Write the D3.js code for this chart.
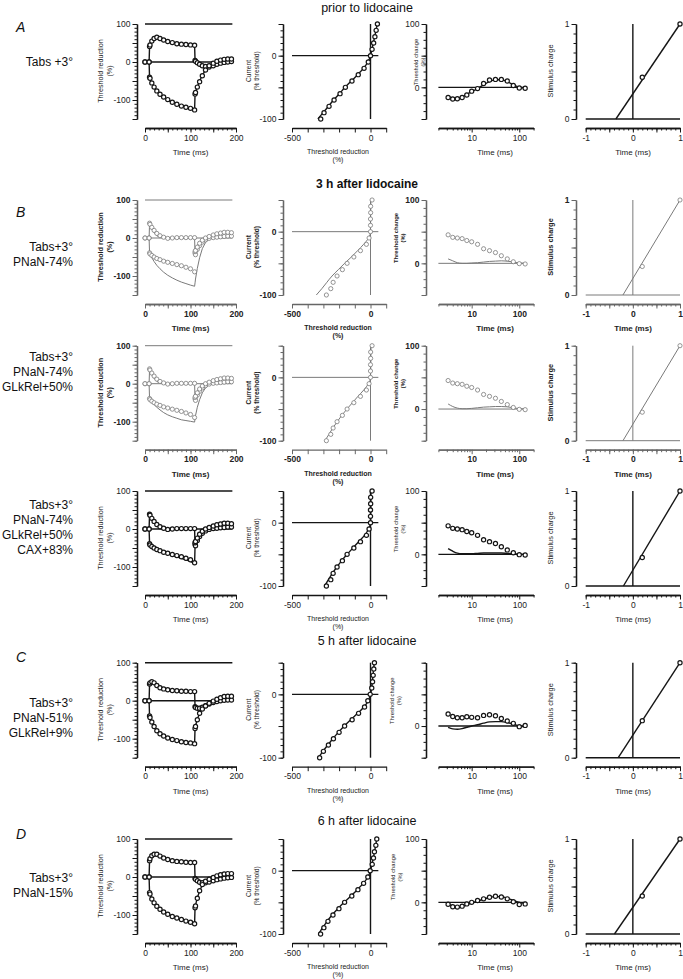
<!DOCTYPE html>
<html>
<head>
<meta charset="utf-8">
<script src="https://cdn.jsdelivr.net/npm/d3@7"></script>
<style>
  body { margin: 0; background: #fff; }
  svg { display: block; font-family: "Liberation Sans", Arial, sans-serif; }
</style>
</head>
<body>
<svg id="fig" width="683" height="979"></svg>
<script>
// ---- shared x values ----
const teT = [0, 9, 10, 11, 15, 20, 26, 33, 41, 50, 60, 70, 80, 90, 100, 109, 110, 111, 115, 120, 126, 133, 141, 150, 158, 166, 174, 182, 190];
const ivCurrent = [-100, -90, -80, -70, -60, -50, -40, -30, -20, -10, 0, 10, 20, 30, 40, 50];
const rcT = [3.2, 4, 5, 6.3, 7.9, 10, 13.3, 17.8, 23.7, 31.6, 42, 56, 75, 100, 133];
const chargeDur = [0.2, 1];

// ---- prior to lidocaine ----
const teDepObs0 = [0, 0, 41, 45, 55, 62, 65, 62, 58, 54, 51, 48, 47, 46, 45, 44, 4, 2, -2, -6, -10, -12, -13, -10, -6, -3, -1, 0, 1];
const teHypObs0 = [0, 0, -40, -43, -55, -66, -76, -85, -92, -99, -106, -111, -116, -119, -122, -126, -84, -80, -66, -52, -36, -21, -10, -3, 2, 5, 7, 8, 8];
const teDepFit0 = [0, 0, 40, 46, 57, 63, 64, 61, 57, 54, 51, 49, 47, 46, 45, 44, 4, 2, -3, -7, -11, -13, -12, -9, -6, -3, -1, 0, 1];
const teHypFit0 = [0, 0, -41, -44, -56, -67, -77, -86, -93, -100, -106, -111, -115, -119, -122, -125, -85, -79, -65, -50, -35, -21, -10, -3, 2, 5, 6, 7, 7];
const ivObs0 = [-317, -296, -264, -232, -194, -160, -118, -78, -41, -14, 0, 10, 20, 28, 36, 44];
const ivFit0 = [-335, -302, -268, -235, -198, -162, -122, -82, -45, -16, 0, 9, 18, 27, 35, 43];
const rcObs0 = [-16, -18.5, -18, -16, -12, -6, -2, 6, 11.5, 12.5, 12.5, 10, 3, -1, -1.5];
const rcFit0 = [-14, -17, -17, -15, -11, -7, -2, 4, 9, 12, 12, 9, 4, 0, -1];
const chargeObs0 = [0.44, 1];
const chargeIcpt0 = -0.36;

// ---- 3 h after lidocaine (recording) ----
const teDepObs3 = [0, 0, 39, 36, 28, 20, 12, 6, 2, -1, 0, 1, 1, 1, 1, 1, -40, -44, -30, -20, -11, -5, -1, 1, 2, 3, 4, 5, 5];
const teHypObs3 = [0, 0, -39, -42, -46, -50, -54, -57, -61, -64, -67, -70, -73, -77, -81, -89, -36, -33, -24, -14, -6, 0, 4, 8, 11, 13, 15, 15, 14];
const ivObs3 = [-281, -253, -238, -213, -179, -149, -106, -64, -26, -9, 0, 0, 0, 1, 1, 10];
const rcObs3 = [45, 41, 40, 39, 36, 34, 30, 23, 20, 17, 12, 7, 2.5, -0.5, -1];
const chargeObs3 = [0.30, 1];

// ---- 3 h models ----
const teDepFitNa = [0, 0, 38, 34, 24, 14, 6, 2, 0, 0, 0, 0, 0, 0, 0, 0, -46, -42, -30, -19, -11, -6, -2, 0, 1, 2, 3, 4, 4];
const teHypFitNa = [0, 0, -39, -42, -52, -62, -72, -81, -90, -98, -105, -111, -116, -120, -124, -127, -118, -108, -80, -52, -28, -12, -3, 1, 3, 4, 5, 5, 5];
const ivFitNa = [-345, -310, -278, -245, -205, -165, -122, -82, -44, -12, 0, 0, 1, 1, 2, 2];
const rcFitNa = [7, 4, 1, 0, 0, 0.5, 1, 2, 3, 3.5, 4, 3.5, 2, 0.5, 0];
const chargeIcptNa = -0.21;

const teDepFitLk = [0, 0, 38, 34, 24, 14, 6, 2, 0, 0, 0, 0, 0, 0, 0, 0, -45, -41, -29, -19, -11, -6, -2, 0, 1, 2, 3, 3, 3];
const teHypFitLk = [0, 0, -39, -41, -48, -55, -62, -69, -76, -82, -87, -91, -95, -97, -99, -101, -92, -84, -62, -42, -24, -11, -3, 1, 3, 4, 4, 4, 4];
const ivFitLk = [-290, -265, -240, -212, -183, -150, -115, -80, -43, -13, 0, 1, 2, 2, 3, 3];
const rcFitLk = [8, 4, 1.5, 0.5, 0.5, 1, 2, 3, 3.5, 4, 4, 3.5, 2, 0.5, 0];
const chargeIcptLk = -0.21;

const teDepFitCax = [0, 0, 40, 36, 27, 18, 10, 4, 1, 0, 0, 0, 0, 0, 0, 0, -46, -42, -30, -20, -12, -6, -2, 0, 2, 3, 4, 5, 5];
const teHypFitCax = [0, 0, -37, -40, -45, -49, -53, -57, -61, -65, -69, -73, -77, -81, -85, -91, -46, -40, -30, -20, -11, -4, 0, 3, 5, 6, 7, 7, 7];
const ivFitCax = [-292, -268, -243, -214, -183, -149, -112, -75, -38, -12, 0, 1, 1, 2, 2, 3];
const rcFitCax = [9, 5, 2, 1, 1, 1, 1.5, 2, 2, 2, 2, 1.5, 1, 0, 0];
const chargeIcptCax = -0.20;

// ---- 5 h after lidocaine ----
const teDepObs5 = [0, 0, 44, 47, 50, 47, 40, 34, 31, 29, 27, 26, 25, 25, 24, 24, -16, -18, -20, -20, -17, -13, -9, -5, -2, 0, 1, 2, 2];
const teHypObs5 = [0, 0, -40, -44, -56, -68, -79, -87, -93, -98, -102, -105, -108, -110, -111, -113, -73, -68, -50, -33, -22, -14, -7, -1, 4, 8, 11, 12, 12];
const teDepFit5 = [0, 0, 42, 46, 49, 47, 41, 35, 31, 29, 27, 26, 25, 24, 24, 24, -16, -18, -19, -19, -17, -13, -9, -5, -2, 0, 1, 1, 1];
const teHypFit5 = [0, 0, -41, -45, -57, -69, -79, -87, -93, -98, -102, -105, -108, -110, -112, -113, -72, -66, -49, -33, -21, -12, -5, 0, 3, 5, 6, 6, 6];
const ivObs5 = [-324, -300, -268, -236, -200, -165, -117, -76, -38, -17, -2, 8, 13, 17, 21, 25];
const ivFit5 = [-332, -303, -272, -240, -205, -167, -125, -82, -42, -14, 0, 7, 12, 16, 20, 24];
const rcObs5 = [19, 15, 13, 13, 14.7, 13.7, 13, 16.8, 17.9, 16.3, 12, 7.9, 4.2, -1, 1];
const rcFit5 = [-2, -4.5, -5, -4, -2, 0, 2, 4.5, 6.5, 7, 7, 5.5, 3, 0, -1];
const chargeObs5 = [0.39, 1];
const chargeIcpt5 = -0.31;

// ---- 6 h after lidocaine ----
const teDepObs6 = [0, 0, 43, 48, 56, 60, 60, 55, 50, 46, 43, 41, 40, 39, 38, 38, -4, -6, -10, -14, -15, -15, -13, -10, -7, -5, -3, -2, -1];
const teHypObs6 = [0, 0, -41, -45, -58, -68, -77, -85, -92, -98, -104, -108, -112, -116, -119, -123, -81, -76, -56, -36, -20, -11, -6, -1, 3, 6, 8, 9, 9];
const teDepFit6 = [0, 0, 42, 49, 57, 61, 60, 55, 50, 46, 43, 41, 40, 39, 38, 38, -3, -6, -11, -14, -16, -15, -13, -10, -7, -5, -3, -2, -1];
const teHypFit6 = [0, 0, -42, -46, -58, -68, -77, -85, -92, -98, -103, -108, -112, -115, -119, -122, -80, -74, -55, -37, -21, -11, -5, 0, 3, 5, 6, 7, 7];
const ivObs6 = [-318, -297, -271, -239, -201, -165, -119, -80, -44, -17, -2, 11, 19, 25, 34, 40];
const ivFit6 = [-330, -305, -276, -245, -208, -168, -125, -84, -46, -16, 0, 9, 18, 26, 33, 40];
const rcObs6 = [-3, -7, -7.5, -6, -2.5, 0, 3, 5.5, 8, 9.5, 8.5, 5.5, 1, -3.5, -2.5];
const rcFit6 = [-2, -6, -8, -7, -4, -1, 2, 5, 8, 9, 9, 6.5, 3, 0, -2];
const chargeObs6 = [0.40, 1];
const chargeIcpt6 = -0.39;

// ---- row table ----
const rows = [
  { top: 24, gray: false, letter: 'A', letterY: 32, title: 'prior to lidocaine', titleY: 12, titleBold: false,
    labels: ['Tabs +3°'], labelY: 66, rcLabelX: 417.5, rcTopLabel: true,
    teD: teDepObs0, teH: teHypObs0, teDF: teDepFit0, teHF: teHypFit0, iv: ivObs0, ivF: ivFit0,
    rc: rcObs0, rcF: rcFit0, ch: chargeObs0, chI: chargeIcpt0 },
  { top: 200, gray: true, letter: 'B', letterY: 217, title: '3 h after lidocaine', titleY: 188, titleBold: true,
    labels: ['Tabs+3°', 'PNaN-74%'], labelY: 251, rcLabelX: 398, rcTopLabel: true,
    teD: teDepObs3, teH: teHypObs3, teDF: teDepFitNa, teHF: teHypFitNa, iv: ivObs3, ivF: ivFitNa,
    rc: rcObs3, rcF: rcFitNa, ch: chargeObs3, chI: chargeIcptNa },
  { top: 345.7, gray: true, labels: ['Tabs+3°', 'PNaN-74%', 'GLkRel+50%'], labelY: 361, rcLabelX: 398, rcTopLabel: true,
    teD: teDepObs3, teH: teHypObs3, teDF: teDepFitLk, teHF: teHypFitLk, iv: ivObs3, ivF: ivFitLk,
    rc: rcObs3, rcF: rcFitLk, ch: chargeObs3, chI: chargeIcptLk },
  { top: 491, gray: false, labels: ['Tabs+3°', 'PNaN-74%', 'GLkRel+50%', 'CAX+83%'], labelY: 509, rcLabelX: 398, rcTopLabel: true,
    teD: teDepObs3, teH: teHypObs3, teDF: teDepFitCax, teHF: teHypFitCax, iv: ivObs3, ivF: ivFitCax,
    rc: rcObs3, rcF: rcFitCax, ch: chargeObs3, chI: chargeIcptCax },
  { top: 662.7, gray: false, letter: 'C', letterY: 662, title: '5 h after lidocaine', titleY: 645, titleBold: false,
    labels: ['Tabs+3°', 'PNaN-51%', 'GLkRel+9%'], labelY: 707, rcLabelX: 394, rcTopLabel: false,
    teD: teDepObs5, teH: teHypObs5, teDF: teDepFit5, teHF: teHypFit5, iv: ivObs5, ivF: ivFit5,
    rc: rcObs5, rcF: rcFit5, ch: chargeObs5, chI: chargeIcpt5 },
  { top: 839, gray: false, letter: 'D', letterY: 839, title: '6 h after lidocaine', titleY: 825, titleBold: false,
    labels: ['Tabs+3°', 'PNaN-15%'], labelY: 882, rcLabelX: 395, rcTopLabel: true,
    teD: teDepObs6, teH: teHypObs6, teDF: teDepFit6, teHF: teHypFit6, iv: ivObs6, ivF: ivFit6,
    rc: rcObs6, rcF: rcFit6, ch: chargeObs6, chI: chargeIcpt6 }
];

const fig = d3.select('#fig');

// draws an axis as a minor + major pair, labels only where asked
function axis(g, kind, scale, pos, minor, major, labeled, st) {
  const mk = kind === 'left' ? d3.axisLeft : d3.axisBottom;
  const tr = kind === 'left' ? `translate(${pos},0)` : `translate(0,${pos})`;
  const parts = [];
  if (minor.length) {
    parts.push(g.append('g').attr('transform', tr)
      .call(mk(scale).tickValues(minor).tickSize(2.5).tickSizeOuter(0).tickFormat('')));
  }
  parts.push(g.append('g').attr('transform', tr)
    .call(mk(scale).tickValues(major).tickSize(4.5).tickSizeOuter(0).tickPadding(2)
      .tickFormat(d => labeled.includes(d) ? String(d) : '')));
  parts.forEach(a => {
    a.attr('font-size', null).attr('font-family', null);
    a.select('.domain').attr('stroke', st.axCol).attr('stroke-width', 1.3);
    a.selectAll('.tick line').attr('stroke', st.axCol).attr('stroke-width', 1);
    a.selectAll('.tick text').attr('fill', '#222').style('font-size', '8.5px').style('font-weight', st.fw);
  });
}

function vLabel(g, lines, x0, cy, size, gap, st) {
  lines.forEach((t, i) => {
    g.append('text')
      .attr('transform', `translate(${x0 + i * gap},${cy}) rotate(-90)`)
      .attr('text-anchor', 'middle')
      .style('font-size', size + 'px').style('font-weight', st.fw)
      .attr('fill', '#222').text(t);
  });
}

function hLabel(g, lines, cx, y0, size, gap, st) {
  lines.forEach((t, i) => {
    g.append('text').attr('x', cx).attr('y', y0 + i * gap)
      .attr('text-anchor', 'middle')
      .style('font-size', size + 'px').style('font-weight', st.fw)
      .attr('fill', '#222').text(t);
  });
}

function refLine(g, pts, st) {
  g.append('path').attr('d', d3.line()(pts))
    .attr('fill', 'none').attr('stroke', st.col).attr('stroke-width', st.lw);
}

function fitLine(g, pts, line, st) {
  g.append('path').datum(pts).attr('d', line)
    .attr('fill', 'none').attr('stroke', st.col).attr('stroke-width', st.lw)
    .attr('stroke-linejoin', 'round');
}

function markers(g, pts, xs, ys, st) {
  g.append('g').selectAll('circle').data(pts).join('circle')
    .attr('cx', d => xs(d[0])).attr('cy', d => ys(d[1])).attr('r', st.r)
    .attr('fill', '#fff').attr('stroke', st.col).attr('stroke-width', st.mw);
}

function drawRow(r) {
  const g = fig.append('g');
  const st = r.gray
    ? { col: '#7a7a7a', axCol: '#666', lw: 1, mw: 0.8, r: 2.1, fw: 'bold' }
    : { col: '#151515', axCol: '#151515', lw: 1.4, mw: 1.2, r: 2.1, fw: 'normal' };
  const top = r.top, bot = top + 95, xAxY = top + 104;

  // headings
  if (r.title) {
    g.append('text').attr('x', 367).attr('y', r.titleY).attr('text-anchor', 'middle')
      .style('font-size', r.titleBold ? '12px' : '12.5px')
      .style('font-weight', r.titleBold ? 'bold' : 'normal')
      .attr('fill', '#111').text(r.title);
  }
  if (r.letter) {
    g.append('text').attr('x', 16).attr('y', r.letterY)
      .style('font-size', '14px').style('font-style', 'italic')
      .attr('fill', '#111').text(r.letter);
  }
  r.labels.forEach((t, i) => {
    g.append('text').attr('x', 73).attr('y', r.labelY + i * 15)
      .attr('text-anchor', 'end').style('font-size', '12px')
      .attr('fill', '#111').text(t);
  });

  // 1) threshold electrotonus
  const xTE = d3.scaleLinear([0, 200], [145, 236]);
  const yTE = d3.scaleLinear([-150, 100], [bot, top]);
  axis(g, 'left', yTE, 137, d3.range(-150, 101, 10), [-150, -100, -50, 0, 50, 100], [-100, 0, 100], st);
  axis(g, 'bottom', xTE, xAxY, d3.range(0, 201, 10), [0, 50, 100, 150, 200], [0, 100, 200], st);
  vLabel(g, ['Threshold reduction', '(%)'], 103, top + 47, 7.2, 9, st);
  hLabel(g, ['Time (ms)'], 190.5, top + 131, 8, 0, st);
  refLine(g, [[xTE(0), yTE(100)], [xTE(192), yTE(100)]], st);
  refLine(g, [[xTE(0), yTE(0)], [xTE(192), yTE(0)]], st);
  const lTE = d3.line().x(d => xTE(d[0])).y(d => yTE(d[1]));
  fitLine(g, d3.zip(teT, r.teDF), lTE, st);
  fitLine(g, d3.zip(teT, r.teHF), lTE, st);
  markers(g, d3.zip(teT, r.teD), xTE, yTE, st);
  markers(g, d3.zip(teT, r.teH), xTE, yTE, st);

  // 2) current-threshold relationship
  const xIV = d3.scaleLinear([-500, 100], [292, 386.2]);
  const yIV = d3.scaleLinear([-100, 50], [bot, top]);
  axis(g, 'left', yIV, 283, d3.range(-100, 51, 10), [-100, -50, 0, 50], [-100, 0], st);
  axis(g, 'bottom', xIV, xAxY, [], d3.range(-500, 101, 100), [-500, 0], st);
  vLabel(g, ['Current', '(% threshold)'], 250.5, top + 47, 6.6, 8.5, st);
  hLabel(g, ['Threshold reduction', '(%)'], 338, top + 130, 7, 8, st);
  refLine(g, [[xIV(-500), yIV(0)], [xIV(50), yIV(0)]], st);
  refLine(g, [[xIV(0), yIV(-100)], [xIV(0), yIV(50)]], st);
  const lIV = d3.line().x(d => xIV(d[1])).y(d => yIV(d[0])).curve(d3.curveMonotoneY);
  fitLine(g, d3.zip(ivCurrent, r.ivF), lIV, st);
  markers(g, d3.zip(r.iv, ivCurrent), xIV, yIV, st);

  // 3) recovery cycle
  const xRC = d3.scaleLog([2, 200], [438.4, 533.6]);
  const yRC = d3.scaleLinear([-50, 100], [bot, top]);
  axis(g, 'left', yRC, 426, d3.range(-50, 101, 12.5), [-50, 0, 50, 100], r.rcTopLabel ? [0, 100] : [0], st);
  axis(g, 'bottom', xRC, xAxY, [2, 3, 4, 5, 6, 7, 8, 9, 20, 30, 40, 50, 60, 70, 80, 90, 200], [10, 100], [10, 100], st);
  vLabel(g, ['Threshold change', '(%)'], r.rcLabelX, top + 38, 5.8, 7, st);
  hLabel(g, ['Time (ms)'], 495, top + 131, 8, 0, st);
  refLine(g, [[xRC(2), yRC(0)], [xRC(140), yRC(0)]], st);
  const lRC = d3.line().x(d => xRC(d[0])).y(d => yRC(d[1])).curve(d3.curveMonotoneX);
  fitLine(g, d3.zip(rcT, r.rcF), lRC, st);
  markers(g, d3.zip(rcT, r.rc), xRC, yRC, st);

  // 4) charge-duration
  const xCH = d3.scaleLinear([-1, 1], [585.7, 680]);
  const yCH = d3.scaleLinear([0, 1], [bot, top]);
  axis(g, 'left', yCH, 576, d3.range(0, 11).map(i => i / 10), [0, 0.5, 1], [0, 1], st);
  axis(g, 'bottom', xCH, xAxY, d3.range(-10, 11).map(i => i / 10), [-1, -0.5, 0, 0.5, 1], [-1, 0, 1], st);
  vLabel(g, ['Stimulus charge'], 552.5, top + 47, 7.4, 0, st);
  hLabel(g, ['Time (ms)'], 633, top + 131, 8, 0, st);
  refLine(g, [[xCH(-1), yCH(0)], [xCH(1), yCH(0)]], st);
  refLine(g, [[xCH(0), yCH(0)], [xCH(0), yCH(1)]], st);
  fitLine(g, [[r.chI, 0], [1, 1]], d3.line().x(d => xCH(d[0])).y(d => yCH(d[1])), st);
  markers(g, d3.zip(chargeDur, r.ch), xCH, yCH, st);
}

rows.forEach(drawRow);
</script>
</body>
</html>
